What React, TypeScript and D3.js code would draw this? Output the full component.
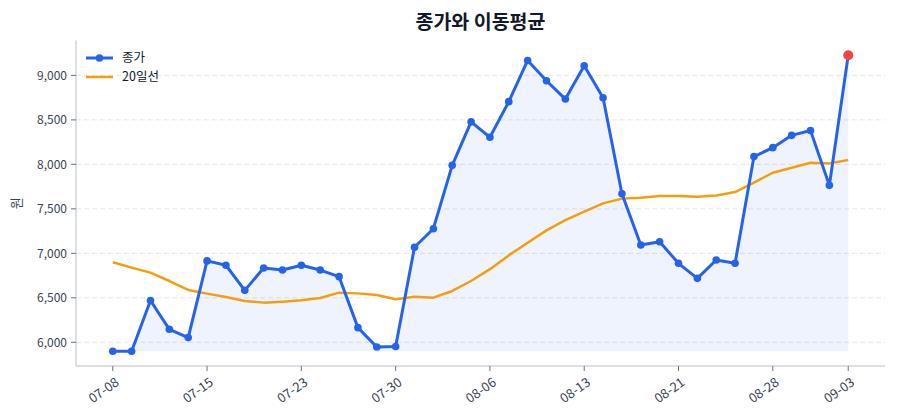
import React, { useEffect, useRef } from "react";
import * as d3 from "d3";

const dates = [
  "07-08", "07-09", "07-10", "07-11", "07-12", "07-15", "07-16", "07-17", "07-18", "07-22",
  "07-23", "07-24", "07-25", "07-26", "07-29", "07-30", "07-31", "08-01", "08-02", "08-05",
  "08-06", "08-07", "08-08", "08-09", "08-12", "08-13", "08-14", "08-16", "08-19", "08-20",
  "08-21", "08-22", "08-23", "08-26", "08-27", "08-28", "08-29", "08-30", "09-02", "09-03",
];

const close = [
  5900, 5900, 6470, 6146, 6053, 6915, 6866, 6584, 6836, 6812,
  6866, 6812, 6738, 6165, 5947, 5953, 7068, 7277, 7989, 8478,
  8305, 8705, 9168, 8940, 8734, 9108, 8748, 7670, 7093, 7130,
  6888, 6719, 6925, 6888, 8088, 8188, 8326, 8380, 7764, 9226,
];

const ma20 = [
  6900, 6839, 6783, 6689, 6588, 6547, 6509, 6464, 6446, 6457,
  6472, 6498, 6558, 6550, 6532, 6483, 6513, 6502, 6577, 6689,
  6822, 6977, 7120, 7258, 7374, 7468, 7562, 7615, 7626, 7645,
  7644, 7637, 7650, 7689, 7794, 7906, 7962, 8019, 8011, 8049,
];

const yTicks = [6000, 6500, 7000, 7500, 8000, 8500, 9000];
const xTickIdx = [0, 5, 10, 15, 20, 25, 30, 35, 39];

const W = 900;
const H = 420;
const FONT = "'Noto Sans CJK KR', 'Noto Sans', sans-serif";

export default function App() {
  const ref = useRef<SVGSVGElement | null>(null);

  useEffect(() => {
    const svg = d3.select(ref.current);
    svg.selectAll("*").remove();

    const left = 76, right = 885, bottom = 366;
    const n = dates.length;
    const x = d3.scaleLinear().domain([-0.05 * (n - 1), (n - 1) * 1.05]).range([left, right]);
    const minV = d3.min(close)!;
    const maxV = d3.max(close)!;
    const pad = (maxV - minV) * 0.05;
    const top = 40.5;
    const y = d3.scaleLinear().domain([minV - pad, maxV + pad]).range([bottom, top]);

    // grid
    svg.append("g")
      .selectAll("line")
      .data(yTicks)
      .join("line")
      .attr("x1", left).attr("x2", right)
      .attr("y1", (d) => y(d)).attr("y2", (d) => y(d))
      .attr("stroke", "#e5e7eb").attr("stroke-width", 1)
      .attr("stroke-dasharray", "5,3");

    // area
    const idx = d3.range(n);
    const area = d3.area<number>()
      .x((i) => x(i))
      .y0(y(minV))
      .y1((i) => y(close[i]));
    svg.append("path").datum(idx).attr("d", area)
      .attr("fill", "#2563eb").attr("fill-opacity", 0.08);

    // spines
    svg.append("line").attr("x1", left).attr("x2", left).attr("y1", top).attr("y2", bottom)
      .attr("stroke", "#d1d5db").attr("stroke-width", 1.5);
    svg.append("line").attr("x1", left).attr("x2", right).attr("y1", bottom).attr("y2", bottom)
      .attr("stroke", "#d1d5db").attr("stroke-width", 1.5);

    // y ticks
    const yg = svg.append("g");
    yTicks.forEach((t) => {
      yg.append("line").attr("x1", left - 5).attr("x2", left).attr("y1", y(t)).attr("y2", y(t))
        .attr("stroke", "#6b7280").attr("stroke-width", 1);
      yg.append("text").attr("x", left - 9).attr("y", y(t)).attr("dy", "0.35em")
        .attr("text-anchor", "end").attr("font-size", 12).attr("fill", "#374151")
        .attr("font-family", FONT).text(d3.format(",")(t));
    });

    // x ticks
    const xg = svg.append("g");
    xTickIdx.forEach((i) => {
      xg.append("line").attr("x1", x(i)).attr("x2", x(i)).attr("y1", bottom).attr("y2", bottom + 5)
        .attr("stroke", "#6b7280").attr("stroke-width", 1);
      xg.append("text")
        .attr("transform", `translate(${x(i) + 2},${bottom + 11}) rotate(-35)`)
        .attr("text-anchor", "end").attr("dy", "0.7em")
        .attr("font-size", 13).attr("fill", "#374151").attr("font-family", FONT)
        .text(dates[i]);
    });

    // MA line
    const line = (vals: number[]) =>
      d3.line<number>().x((i) => x(i)).y((i) => y(vals[i]))(idx);
    svg.append("path").attr("d", line(ma20)).attr("fill", "none")
      .attr("stroke", "#f59e0b").attr("stroke-width", 2.5).attr("stroke-linejoin", "round");

    // close line
    svg.append("path").attr("d", line(close)).attr("fill", "none")
      .attr("stroke", "#2563eb").attr("stroke-width", 3).attr("stroke-linejoin", "round");
    svg.append("g").selectAll("circle").data(idx.slice(0, n - 1)).join("circle")
      .attr("cx", (i) => x(i)).attr("cy", (i) => y(close[i])).attr("r", 3.8)
      .attr("fill", "#2563eb");
    svg.append("circle").attr("cx", x(n - 1)).attr("cy", y(close[n - 1])).attr("r", 5)
      .attr("fill", "#ef4444");

    // title
    svg.append("text").attr("x", (left + right) / 2).attr("y", 28.5)
      .attr("text-anchor", "middle").attr("font-size", 19.5).attr("font-weight", "bold")
      .attr("fill", "#111827").attr("font-family", FONT).text("종가와 이동평균");

    // y label
    svg.append("text").attr("transform", `translate(21,${(top + bottom) / 2}) rotate(-90)`)
      .attr("text-anchor", "middle").attr("font-size", 13).attr("fill", "#374151")
      .attr("font-family", FONT).text("원");

    // legend
    const lg = svg.append("g");
    lg.append("line").attr("x1", 86).attr("x2", 113).attr("y1", 58).attr("y2", 58)
      .attr("stroke", "#2563eb").attr("stroke-width", 3);
    lg.append("circle").attr("cx", 99.5).attr("cy", 58).attr("r", 3.8).attr("fill", "#2563eb");
    lg.append("text").attr("x", 122).attr("y", 58).attr("dy", "0.35em").attr("font-size", 12.5)
      .attr("fill", "#111827").attr("font-family", FONT).text("종가");
    lg.append("line").attr("x1", 86).attr("x2", 113).attr("y1", 77).attr("y2", 77)
      .attr("stroke", "#f59e0b").attr("stroke-width", 2.5);
    lg.append("text").attr("x", 122).attr("y", 77).attr("dy", "0.35em").attr("font-size", 12.5)
      .attr("fill", "#111827").attr("font-family", FONT).text("20일선");
  }, []);

  return (
    <svg
      ref={ref}
      width={W}
      height={H}
      style={{ position: "fixed", left: 0, top: 0, background: "#ffffff" }}
    />
  );
}
